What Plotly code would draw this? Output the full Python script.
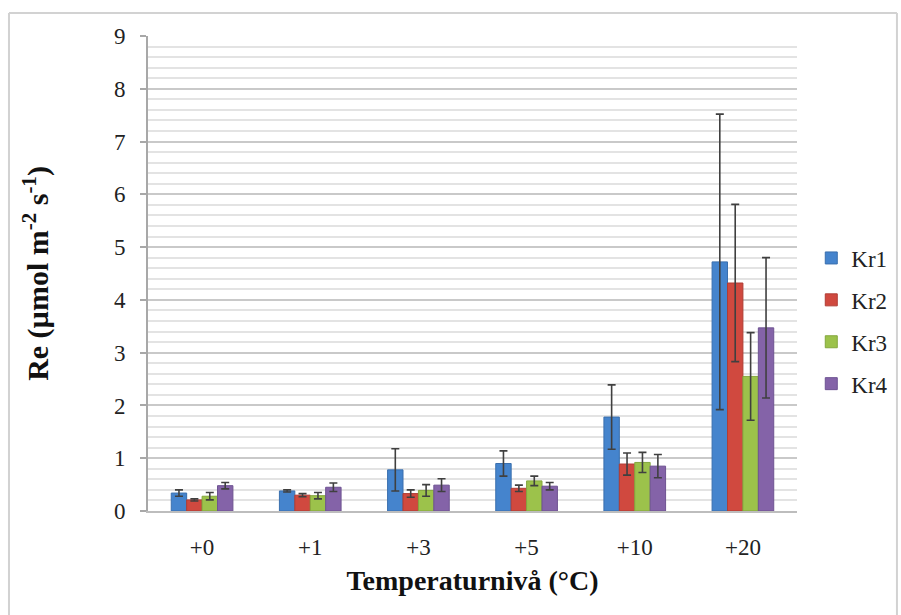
import plotly.graph_objects as go

# Temperature levels and ecosystem respiration per chamber (mean ± SD)
categories = ["+0", "+1", "+3", "+5", "+10", "+20"]
series_names = ["Kr1", "Kr2", "Kr3", "Kr4"]

kr1_mean = [0.34, 0.38, 0.78, 0.90, 1.78, 4.72]
kr2_mean = [0.21, 0.30, 0.33, 0.43, 0.89, 4.32]
kr3_mean = [0.28, 0.29, 0.39, 0.57, 0.92, 2.55]
kr4_mean = [0.48, 0.45, 0.49, 0.47, 0.85, 3.47]

kr1_sd = [0.06, 0.02, 0.40, 0.24, 0.61, 2.80]
kr2_sd = [0.02, 0.03, 0.07, 0.06, 0.21, 1.49]
kr3_sd = [0.07, 0.06, 0.11, 0.09, 0.19, 0.83]
kr4_sd = [0.06, 0.08, 0.12, 0.07, 0.22, 1.33]

means = [kr1_mean, kr2_mean, kr3_mean, kr4_mean]
sds = [kr1_sd, kr2_sd, kr3_sd, kr4_sd]
fills = ["#4584cd", "#d0493f", "#9cc24b", "#8463a8"]
edges = ["#3a6fae", "#b03d35", "#84a73d", "#6e5392"]

FONT = "Liberation Serif"

fig = go.Figure()
for name, m, s, fc, ec in zip(series_names, means, sds, fills, edges):
    fig.add_trace(go.Bar(
        x=categories, y=m, name=name, legendgroup=name,
        marker=dict(color=fc, line=dict(color=ec, width=1)),
        error_y=dict(type="data", array=s, visible=True,
                     color="#404040", thickness=1.6, width=4),
    ))

# Light frame around the whole chart area (open at the bottom)
frame = dict(type="line", xref="paper", yref="paper",
             line=dict(color="#d2d2d2", width=2), layer="below")
fig.add_shape(x0=-0.2142, x1=-0.2142, y0=1.0484, y1=-0.25, **frame)
fig.add_shape(x0=-0.2142, x1=1.154, y0=1.0484, y1=1.0484, **frame)
fig.add_shape(x0=1.154, x1=1.154, y0=1.0484, y1=-0.25, **frame)

fig.update_layout(
    width=901, height=615,
    margin=dict(l=148, r=104, t=36, b=104, autoexpand=False),
    paper_bgcolor="white", plot_bgcolor="white",
    barmode="group", bargap=0.43, bargroupgap=0.0,
    font=dict(family=FONT, size=22, color="#222222"),
    legend=dict(x=1.022, y=0.40, xanchor="left", yanchor="middle",
                font=dict(family=FONT, size=23, color="#222222"),
                tracegroupgap=9, itemwidth=30, bgcolor="rgba(0,0,0,0)"),
    xaxis=dict(
        showgrid=False, showline=True, linecolor="#bdbdbd", linewidth=2,
        ticks="", ticklabelstandoff=14,
        tickfont=dict(family=FONT, size=23, color="#222222"),
        title=dict(text="<b>Temperaturnivå (°C)</b>",
                   font=dict(family=FONT, size=28, color="#111111"),
                   standoff=12),
    ),
    yaxis=dict(
        range=[0, 9], dtick=1, tick0=0,
        showgrid=True, gridcolor="#c9c9c9", gridwidth=2,
        minor=dict(dtick=0.2, showgrid=True, gridcolor="#e3e3e3", gridwidth=2),
        showline=True, linecolor="#a8a8a8", linewidth=2,
        ticks="outside", ticklen=6, tickcolor="#a8a8a8", tickwidth=2,
        ticklabelstandoff=10, zeroline=False,
        tickfont=dict(family=FONT, size=23, color="#222222"),
        title=dict(text="<b>Re (µmol m<sup>-2</sup> s<sup>-1</sup>)</b>",
                   font=dict(family=FONT, size=30, color="#111111"),
                   standoff=56),
    ),
)

fig.write_html("out.html")
